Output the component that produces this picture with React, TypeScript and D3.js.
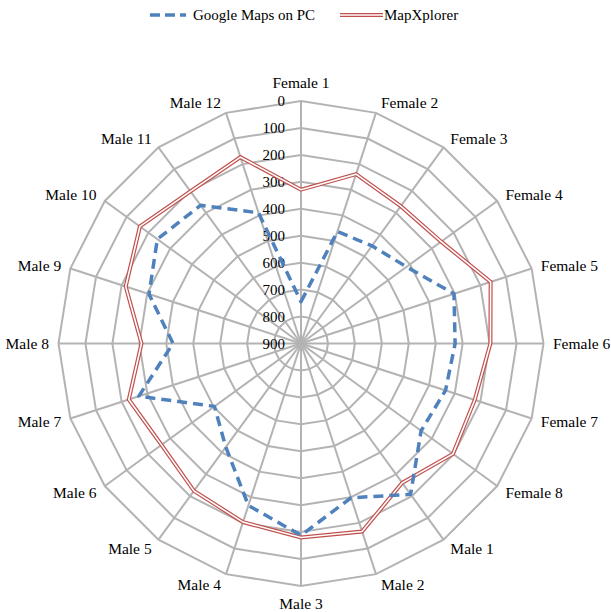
import React from "react";
import * as d3 from "d3";

const categories = [
  "Female 1", "Female 2", "Female 3", "Female 4", "Female 5", "Female 6", "Female 7", "Female 8",
  "Male 1", "Male 2", "Male 3", "Male 4", "Male 5", "Male 6", "Male 7", "Male 8",
  "Male 9", "Male 10", "Male 11", "Male 12",
];
const googleMaps = [745, 463, 452, 416, 303, 328, 336, 349, 208, 298, 188, 268, 425, 503, 267, 425, 307, 241, 266, 390];
const mapXplorer = [329, 239, 270, 257, 160, 197, 222, 203, 261, 166, 180, 203, 224, 260, 228, 308, 216, 161, 202, 173];
const ticks = [0, 100, 200, 300, 400, 500, 600, 700, 800, 900];

const W = 611;
const H = 612;
const cx = 301;
const cy = 343.5;
const R = 242.5;
const FONT = "'Liberation Serif', 'Times New Roman', serif";
const GRID = "#B3B3B3";
const BLUE = "#4F81BD";
const RED = "#C0504D";

export default function App() {
  const n = categories.length;
  const angle = d3.scaleLinear().domain([0, n]).range([0, 2 * Math.PI]);
  const r = d3.scaleLinear().domain([0, 900]).range([R, 0]);
  const pt = (i: number, v: number): [number, number] => {
    const a = angle(i);
    return [cx + r(v) * Math.sin(a), cy - r(v) * Math.cos(a)];
  };
  const line = d3.line<[number, number]>().curve(d3.curveLinearClosed);
  const ringPath = (v: number) => line(categories.map((_, i) => pt(i, v))) as string;
  const seriesPath = (vals: number[]) => line(vals.map((v, i) => pt(i, v))) as string;

  return (
    <svg width={W} height={H} style={{ position: "absolute", left: 0, top: 0, background: "#fff" }}>
      {/* grid rings */}
      {ticks.filter((t) => t < 900).map((t) => (
        <path key={"ring" + t} d={ringPath(t)} fill="none" stroke={GRID} strokeWidth={2} />
      ))}
      {/* spokes */}
      {categories.map((c, i) => {
        const [x, y] = pt(i, 0);
        return <line key={"sp" + c} x1={cx} y1={cy} x2={x} y2={y} stroke={GRID} strokeWidth={2} />;
      })}
      {/* tick labels */}
      {ticks.map((t) => (
        <text key={"tk" + t} x={285} y={r(t) ? cy - r(t) : cy} dy="0.35em" textAnchor="end"
          fontFamily={FONT} fontSize={15} fill="#000">{t}</text>
      ))}
      {/* category labels */}
      {categories.map((c, i) => {
        const a = angle(i);
        const s = Math.sin(a);
        const co = Math.cos(a);
        const [vx, vy] = pt(i, 0);
        const side = Math.abs(s) > 0.05;
        const anchor = !side ? "middle" : s > 0 ? "start" : "end";
        const gap = 3 + 6.5 * Math.abs(s);
        const x = !side ? vx : vx + Math.sign(s) * gap;
        const k = side ? 11 : 18;
        const y = vy - co * k;
        return (
          <text key={"lb" + c} x={x} y={y} dy="0.35em" textAnchor={anchor}
            fontFamily={FONT} fontSize={15.5} fill="#000">{c}</text>
        );
      })}
      {/* MapXplorer: double line */}
      <path d={seriesPath(mapXplorer)} fill="none" stroke={RED} strokeWidth={4} strokeLinejoin="miter" />
      <path d={seriesPath(mapXplorer)} fill="none" stroke="#fff" strokeWidth={1.6} strokeLinejoin="miter" />
      {/* Google Maps on PC: dashed */}
      <path d={seriesPath(googleMaps)} fill="none" stroke={BLUE} strokeWidth={3.5} strokeDasharray="10,6" strokeLinejoin="round" />
      {/* legend */}
      <line x1={150} y1={15} x2={186} y2={15} stroke={BLUE} strokeWidth={3.5} strokeDasharray="10,5" />
      <text x={193} y={15} dy="0.35em" fontFamily={FONT} fontSize={15} fill="#000">Google Maps on PC</text>
      <line x1={340} y1={15} x2={383} y2={15} stroke={RED} strokeWidth={4} />
      <line x1={340} y1={15} x2={383} y2={15} stroke="#fff" strokeWidth={1.6} />
      <text x={384} y={15} dy="0.35em" fontFamily={FONT} fontSize={15} fill="#000">MapXplorer</text>
    </svg>
  );
}
